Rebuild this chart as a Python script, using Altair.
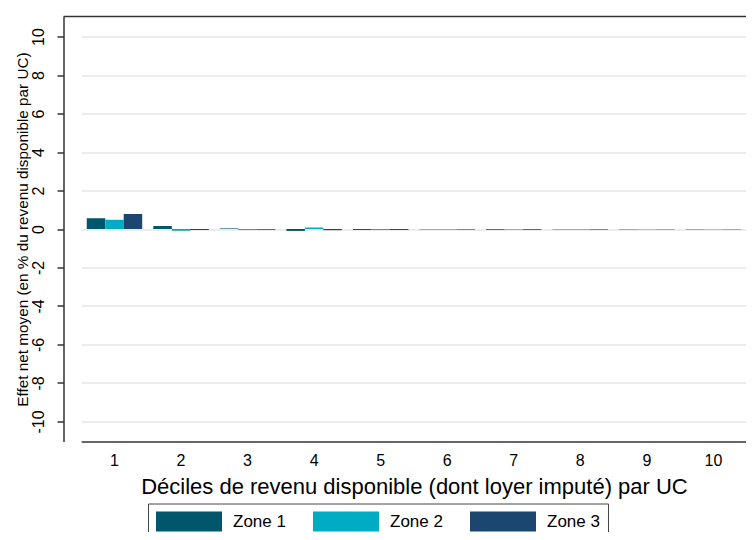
import altair as alt
import pandas as pd

deciles = [str(i) for i in range(1, 11)]
zones = ["Zone 1", "Zone 2", "Zone 3"]
zone1 = [0.56, 0.15, 0.03, -0.10, -0.05, -0.02, -0.04, -0.02, -0.02, -0.02]
zone2 = [0.48, -0.09, -0.05, 0.08, -0.05, -0.03, -0.03, -0.03, -0.02, -0.02]
zone3 = [0.78, -0.05, -0.04, -0.06, -0.05, -0.03, -0.04, -0.03, -0.02, -0.02]
colors = ["#00576b", "#00abc4", "#1b4670"]
y_ticks = list(range(-10, 11, 2))
y_domain = [-11.04, 11.04]

rows = []
for z, vals in zip(zones, [zone1, zone2, zone3]):
    for d, v in zip(deciles, vals):
        rows.append({"decile": d, "zone": z, "value": v})
df = pd.DataFrame(rows)

bars = alt.Chart(df).mark_bar(strokeWidth=0).encode(
    x=alt.X(
        "decile:N", sort=deciles,
        scale=alt.Scale(range=[17.7, 683.2], paddingInner=0, paddingOuter=0),
        axis=alt.Axis(
            title="Déciles de revenu disponible (dont loyer imputé) par UC",
            labelAngle=0, ticks=False, labelFontSize=16, labelPadding=10.5,
            titleFontSize=22, titlePadding=8, titleFontWeight="normal",
            domainColor="#333333", domainWidth=1.5, grid=False,
            labelColor="black", titleColor="black",
        ),
    ),
    xOffset=alt.XOffset("zone:N", sort=zones,
                        scale=alt.Scale(paddingInner=0, paddingOuter=0.3)),
    y=alt.Y(
        "value:Q",
        scale=alt.Scale(domain=y_domain, nice=False, zero=False),
        axis=alt.Axis(
            values=y_ticks,
            labelExpr="datum.value + ''",
            title="Effet net moyen (en % du revenu disponible par UC)",
            titleFontSize=15.3, titleFontWeight="normal", titlePadding=0,
            labelAngle=270, labelAlign="center", labelBaseline="alphabetic",
            labelFontSize=16, labelPadding=13.5,
            tickSize=6.5, tickColor="#333333", tickWidth=1.5,
            domainColor="#333333", domainWidth=1.5,
            gridColor="#e6e6e6", gridWidth=1.5,
            labelColor="black", titleColor="black",
        ),
    ),
    color=alt.Color(
        "zone:N",
        scale=alt.Scale(domain=zones, range=colors),
        legend=alt.Legend(
            title=None, orient="none", legendX=84.5, legendY=487,
            direction="horizontal",
            symbolType="M-1,-1H5.6V1H-1Z", symbolSize=400,
            symbolStrokeWidth=0, symbolOpacity=1,
            labelFontSize=17, labelOffset=57, columnPadding=27,
            padding=8, strokeColor="#444444", labelColor="black",
        ),
    ),
)

frame_top = pd.DataFrame({"y": [y_domain[1]]})
top = alt.Chart(frame_top).mark_rule(color="#333333", strokeWidth=1.5).encode(
    y=alt.Y("y:Q", scale=alt.Scale(domain=y_domain, nice=False, zero=False))
)

chart = alt.layer(bars, top).properties(
    width=682.5, height=425,
    autosize=alt.AutoSizeParams(type="none"),
    padding={"left": 55.5, "top": 8.5, "right": 0, "bottom": 90.5},
).configure(font="Liberation Sans").configure_view(stroke=None)

chart.save("out.html", embed_options={"renderer": "svg", "actions": False})
